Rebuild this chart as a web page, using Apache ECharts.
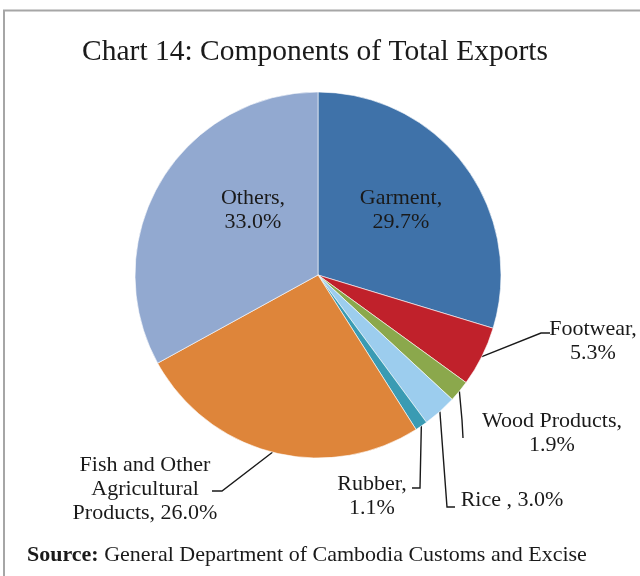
<!DOCTYPE html>
<html>
<head>
<meta charset="utf-8">
<title>Chart 14</title>
<script src="https://cdn.jsdelivr.net/npm/echarts@6/dist/echarts.min.js"></script>
<style>
  html, body { margin: 0; padding: 0; background: #fff; }
  #chart { width: 640px; height: 576px; }
</style>
</head>
<body>
<div id="chart"></div>
<script>
// export components, share in percent (clockwise from 12 o'clock)
var names = ['Garment', 'Footwear', 'Wood Products', 'Rice ', 'Rubber', 'Fish and Other Agricultural Products', 'Others'];
var shares = [29.7, 5.3, 1.9, 3.0, 1.1, 26.0, 33.0];
var colors = ['#3F72A9', '#C0212B', '#8BA84C', '#9CCDEE', '#3A9BB3', '#DE853A', '#92A9D0'];

// label block centres, and elbow/end of the leader lines (null = no line)
var labelSpots = [[401, 210], [593, 341], [552, 433], [512, 500], [372, 496], [145, 489], [253, 210]];
var leaders = [null, [[541, 333], [550, 333]], [[462, 420], [463, 438]], [[447, 507], [455, 507]],
               [[420, 488], [412, 488]], [[222, 491], [212, 491]], null];

var font = 'Liberation Serif, Times New Roman, serif';
var cx = 318, cy = 275, R = 183;

function labelText(p) {
    var pct = p.value.toFixed(1) + '%';
    if (p.dataIndex === 3) return p.name + ', ' + pct;
    if (p.dataIndex === 5) return 'Fish and Other\nAgricultural\nProducts, ' + pct;
    return p.name + ',\n' + pct;
}

// point on the rim at the middle of slice i
function rimPoint(i) {
    var total = shares.reduce(function (a, b) { return a + b; }, 0);
    var before = 0;
    for (var k = 0; k < i; k++) before += shares[k];
    var a = (90 - (before + shares[i] / 2) / total * 360) * Math.PI / 180;
    return [cx + R * Math.cos(a), cy - R * Math.sin(a)];
}

var myChart = echarts.init(document.getElementById('chart'));

var option = {
    animation: false,
    title: {
        text: 'Chart 14: Components of Total Exports',
        left: 310,
        top: 32,
        textAlign: 'center',
        textStyle: { fontFamily: font, fontSize: 29.5, fontWeight: 'normal', color: '#1a1a1a' }
    },
    graphic: [
        {
            type: 'rect',
            shape: { x: 4, y: 10.5, width: 700, height: 700 },
            style: { fill: 'none', stroke: '#A6A6A6', lineWidth: 2 }
        },
        {
            type: 'text',
            left: 27,
            top: 544,
            style: {
                text: '{b|Source:} General Department of Cambodia Customs and Excise',
                fontFamily: font,
                fontSize: 22,
                fill: '#1a1a1a',
                rich: {
                    b: { fontFamily: font, fontSize: 22, fontWeight: 'bold', fill: '#1a1a1a' }
                }
            }
        }
    ],
    series: [{
        type: 'pie',
        center: [cx, cy],
        radius: R,
        startAngle: 90,
        clockwise: true,
        percentPrecision: 1,
        itemStyle: { borderColor: '#fff', borderWidth: 0.6 },
        label: {
            show: true,
            formatter: labelText,
            fontFamily: font,
            fontSize: 22,
            lineHeight: 24,
            color: '#1a1a1a',
            align: 'center',
            overflow: 'none'
        },
        labelLine: {
            show: true,
            lineStyle: { color: '#1a1a1a', width: 1.4 }
        },
        labelLayout: function (p) {
            var i = p.dataIndex;
            var s = labelSpots[i];
            var res = { x: s[0], y: s[1], align: 'center', verticalAlign: 'middle' };
            if (leaders[i]) {
                res.labelLinePoints = [rimPoint(i), leaders[i][0], leaders[i][1]];
            }
            return res;
        },
        data: names.map(function (n, i) {
            var item = { name: n, value: shares[i], itemStyle: { color: colors[i] } };
            if (i === 0 || i === 6) {
                item.label = { position: 'inside' };
                item.labelLine = { show: false };
            }
            return item;
        })
    }]
};

myChart.setOption(option);
</script>
</body>
</html>
